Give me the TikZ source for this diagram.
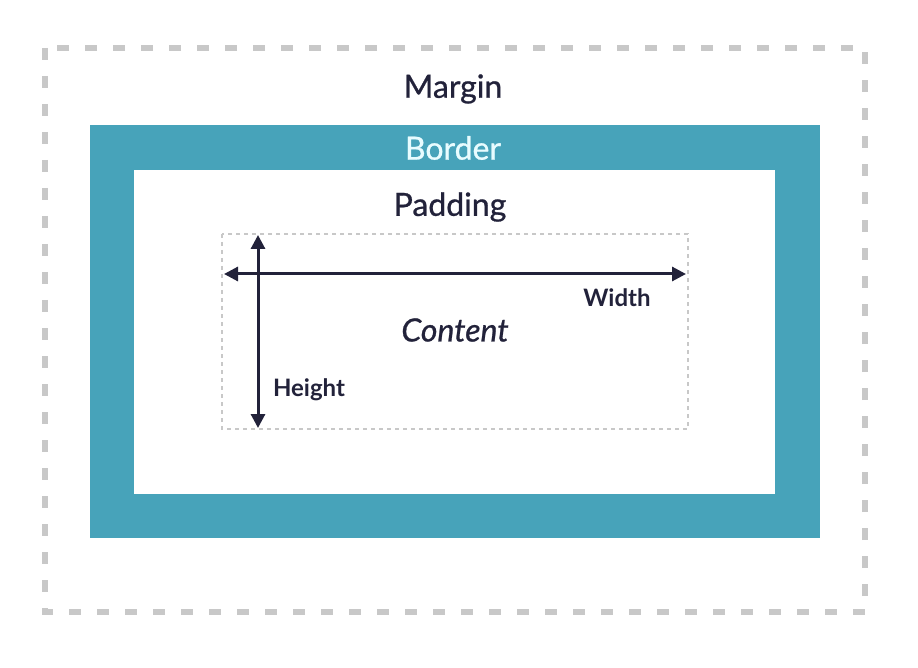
\documentclass[tikz,border=0pt]{standalone}
\usepackage{fontspec}
\setmainfont{Lato}
\newfontfamily\medfont[FakeBold=0.8]{Lato}
\usetikzlibrary{arrows.meta}
\definecolor{teal}{HTML}{47A3BA}
\definecolor{ink}{HTML}{22223A}
\definecolor{marg}{HTML}{C8C8C8}
\definecolor{bordtxt}{HTML}{E8FCFF}
\tikzset{
  lbl/.style={font=\medfont\fontsize{32}{34}\selectfont, text=ink},
  small/.style={font=\bfseries\fontsize{24}{26}\selectfont, text=ink},
  arr/.style={ink, line width=3pt, -{Triangle[length=14pt,width=14pt]}},
}
\begin{document}
\begin{tikzpicture}[x=1pt,y=-1pt]
\useasboundingbox (0,0) rectangle (918,668);
\fill[white] (0,0) rectangle (918,668);
% margin
\draw[marg, line width=6pt, dash pattern=on 12pt off 16pt] (45,48) rectangle (865,612);
% border
\fill[teal] (90,125) rectangle (820,538);
\fill[white] (134,170) rectangle (775,494);
% content box
\draw[marg, line width=1.4pt, dash pattern=on 4pt off 4pt] (222,234) rectangle (688,429);
% arrows
\coordinate (hl) at (224,274);
\coordinate (hr) at (686,274);
\coordinate (vt) at (258,235);
\coordinate (vb) at (258,428);
\coordinate (x) at (258,274);
\draw[arr] (x) -- (hr);
\draw[arr] (x) -- (hl);
\draw[arr] (x) -- (vt);
\draw[arr] (x) -- (vb);
% labels
\node[lbl] (margin) at (453,89) {Margin};
\node[lbl, text=bordtxt] (border) at (453,148) {Border};
\node[lbl] (padding) at (450,207) {Padding};
\node[lbl, font=\medfont\itshape\fontsize{32}{34}\selectfont] (content) at (455,330) {Content};
\node[small] (width) at (617,298) {Width};
\node[small] (height) at (309,390) {Height};
\end{tikzpicture}
\end{document}
